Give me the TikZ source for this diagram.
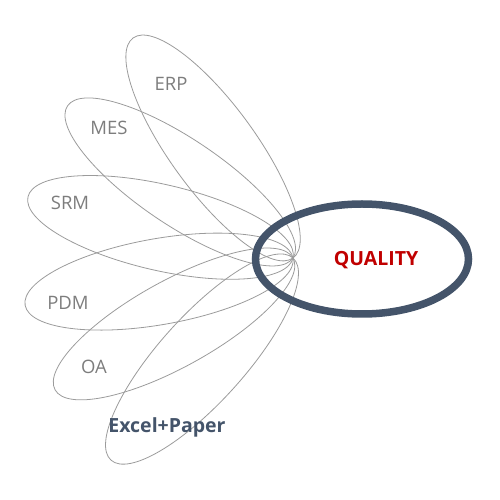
\documentclass[tikz,border=0pt]{standalone}
\usepackage{fontspec}
\setmainfont{Open Sans}
\definecolor{petalgray}{RGB}{155,155,155}
\definecolor{labelgray}{RGB}{125,125,125}
\definecolor{slateblue}{RGB}{68,84,106}
\definecolor{qred}{RGB}{192,0,0}
\tikzset{
  petal/.style={draw=petalgray, line width=0.8pt},
  plabel/.style={text=labelgray, font=\fontsize{18.5}{22}\selectfont, inner sep=0pt},
  ring/.style={draw=slateblue, line width=7.5pt},
}
\begin{document}
\begin{tikzpicture}[x=1pt,y=1pt]
\useasboundingbox (0,0) rectangle (500,500);
\coordinate (P) at (293,242);
\foreach \ang in {126,146,167,190,209,228}{
  \draw[petal, shift={(P)}, rotate=\ang] (136,0) ellipse [x radius=136, y radius=43];
}
\draw[ring] (362,241) ellipse [x radius=106.5, y radius=55];
\node[plabel] (erp) at (171,416) {ERP};
\node[plabel] (mes) at (109,372) {MES};
\node[plabel] (srm) at (70,297) {SRM};
\node[plabel] (pdm) at (68,197) {PDM};
\node[plabel] (oa) at (94,133) {OA};
\node[text=slateblue, font=\bfseries\fontsize{19.5}{23}\selectfont, inner sep=0pt] (excel) at (167,73) {Excel+Paper};
\node[text=qred, font=\bfseries\fontsize{19.5}{23}\selectfont, inner sep=0pt] (quality) at (376,240) {QUALITY};
\end{tikzpicture}
\end{document}
